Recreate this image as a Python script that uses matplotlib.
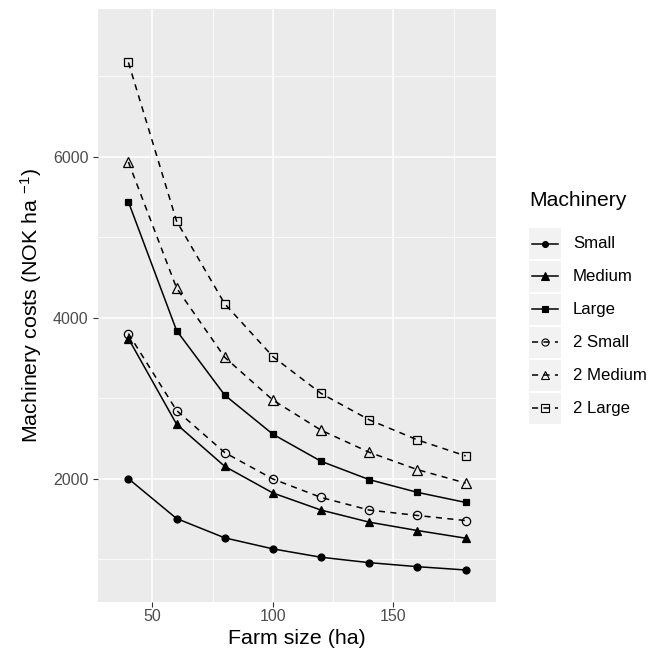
import matplotlib
matplotlib.use("Agg")
import matplotlib.pyplot as plt
from matplotlib.patches import Rectangle
from matplotlib.lines import Line2D

plt.rcParams["font.family"] = ["Liberation Sans", "DejaVu Sans"]
plt.rcParams["mathtext.fontset"] = "custom"
plt.rcParams["mathtext.rm"] = "Liberation Sans"
plt.rcParams["mathtext.it"] = "Liberation Sans:italic"
plt.rcParams["mathtext.bf"] = "Liberation Sans:bold"

farm_size = [40, 60, 80, 100, 120, 140, 160, 180]

small = [2000, 1505, 1265, 1128, 1024, 957, 907, 866]
medium = [3741, 2677, 2153, 1822, 1610, 1460, 1356, 1261]
large = [5439, 3840, 3038, 2552, 2216, 1988, 1830, 1705]
small2 = [3803, 2847, 2324, 1996, 1767, 1610, 1543, 1480]
medium2 = [5934, 4368, 3508, 2976, 2602, 2328, 2112, 1946]
large2 = [7171, 5199, 4172, 3516, 3059, 2731, 2482, 2283]

labels = ["Small", "Medium", "Large", "2 Small", "2 Medium", "2 Large"]
series = [small, medium, large, small2, medium2, large2]

# marker, marker size, filled?, dashed?
styles = [
    ("o", 5.0, True, False),
    ("^", 6.0, True, False),
    ("s", 5.0, True, False),
    ("o", 6.0, False, True),
    ("^", 7.5, False, True),
    ("s", 6.0, False, True),
]
DASH = (0, (4, 3.5))

W, H = 652, 659
fig = plt.figure(figsize=(W / 100, H / 100), dpi=100)
ax = fig.add_axes([98.3 / W, 1 - 601.7 / H, (496 - 98.3) / W, (601.7 - 9.3) / H])
ax.set_facecolor("#EBEBEB")

for vals, (mk, ms, filled, dashed) in zip(series, styles):
    ax.plot(farm_size, vals, color="black", lw=1.1,
            ls=DASH if dashed else "-",
            marker=mk, ms=ms, mew=0.9,
            mfc="black" if filled else "none", mec="black")

ax.set_xlim(27.5, 192.6)
ax.set_ylim(472, 7831)
ax.set_xticks([50, 100, 150])
ax.set_xticks([75, 125, 175], minor=True)
ax.set_yticks([2000, 4000, 6000])
ax.set_yticks([1000, 3000, 5000, 7000], minor=True)
ax.grid(True, which="major", color="white", lw=1.1)
ax.grid(True, which="minor", color="white", lw=0.55)
ax.set_axisbelow(True)
for s in ax.spines.values():
    s.set_visible(False)
ax.tick_params(which="major", length=3.6, width=0.8, color="#333333",
               labelsize=11.5, labelcolor="#4D4D4D")
ax.tick_params(axis="x", pad=2)
ax.tick_params(axis="y", pad=3.5)
ax.tick_params(which="minor", length=0)

ax.set_xlabel("Farm size (ha)", fontsize=15.4, labelpad=3)
ax.set_ylabel("Machinery costs (NOK ha $^{-1}$)", fontsize=15.4, labelpad=6)

# legend drawn in pixel coordinates
lg = fig.add_axes([0, 0, 1, 1])
lg.set_xlim(0, W)
lg.set_ylim(H, 0)
lg.axis("off")
lg.text(529, 200, "Machinery", fontsize=15.2, va="center", ha="left")
y0, step = 243.5, 32.9
for i, (lab, (mk, ms, filled, dashed)) in enumerate(zip(labels, styles)):
    yc = y0 + i * step
    lg.add_patch(Rectangle((529, yc - 15.5), 32, 31, fc="#F2F2F2", ec="none"))
    lg.add_line(Line2D([531.5, 557.5], [yc, yc], color="black", lw=1.1,
                       ls=DASH if dashed else "-"))
    lg.add_line(Line2D([545], [yc], marker=mk, ms=ms * 0.85, mew=0.8,
                       mfc="black" if filled else "none", mec="black", ls="none"))
    lg.text(573, yc, lab, fontsize=12.1, va="center", ha="left")

fig.savefig("out.png", dpi=100)
